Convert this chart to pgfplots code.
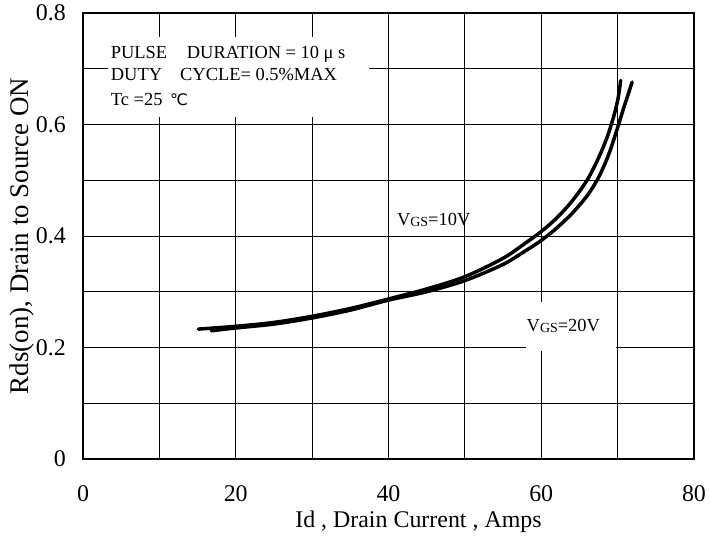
\documentclass[border=0pt]{standalone}
\usepackage{pgfplots}
\pgfplotsset{compat=1.18}
\usepackage{fontspec}
\setmainfont{Liberation Serif}
\newfontfamily\dejavu{DejaVu Sans}
\newcommand\axfont{\fontsize{24}{28}\selectfont}
\newcommand\ylfont{\fontsize{27}{31}\selectfont}
\newcommand\anfont{\fontsize{18.5}{22}\selectfont}
\newcommand\subfont{\fontsize{14}{14}\selectfont}
\begin{document}
\begin{tikzpicture}
\begin{axis}[
 scale only axis, width=611bp, height=446bp,
 xmin=0, xmax=80, ymin=0, ymax=0.8,
 xtick={0,20,40,60,80}, xticklabels={0,20,40,60,80},
 minor xtick={10,30,50,70},
 ytick={0,0.2,0.4,0.6,0.8}, yticklabels={0,0.2,0.4,0.6,0.8},
 minor ytick={0.1,0.3,0.5,0.7},
 grid=both,
 major grid style={black, line width=0.8bp},
 minor grid style={black, line width=0.8bp},
 major tick length=0pt, minor tick length=0pt,
 axis line style={black, line width=1.4bp},
 tick label style={font=\axfont},
 xticklabel style={anchor=base, inner sep=0pt, yshift=-42bp},
 yticklabel style={anchor=east, inner sep=0pt, xshift=-17bp},
 xlabel={Id , Drain Current , Amps},
 ylabel={Rds(on), Drain to Source ON},
 xlabel style={font=\axfont, at={([yshift=-68bp, xshift=30bp]axis description cs:0.5,0)}, anchor=base, inner sep=0pt},
 ylabel style={font=\ylfont, at={([xshift=-54bp]axis description cs:0,0.5)}, anchor=base, inner sep=0pt},
]
\addplot[black, line width=3.5bp, line cap=round, smooth] coordinates {
(15.1,0.233) (20,0.238) (25,0.245) (30,0.256) (35,0.270) (40,0.287) (45,0.305)
(50,0.327) (55,0.360) (58,0.388) (60,0.408) (62,0.432) (64,0.462) (66,0.500)
(67.5,0.540) (68.7,0.580) (69.6,0.620) (70.1,0.650) (70.4,0.679)};
\addplot[black, line width=3.5bp, line cap=round, smooth] coordinates {
(16.8,0.230) (20,0.235) (25,0.242) (30,0.253) (35,0.267) (40,0.285) (45,0.300)
(50,0.320) (55,0.349) (58,0.374) (60,0.392) (62,0.414) (64,0.440) (66,0.472)
(67.5,0.505) (68.8,0.545) (69.9,0.590) (70.8,0.630) (71.4,0.655) (71.9,0.676)};
\fill[white] (axis cs:3.27,0.613) rectangle (axis cs:37.45,0.757);
\fill[white] (axis cs:58.0,0.194) rectangle (axis cs:69.85,0.282);
\begin{scope}[every node/.style={anchor=base west, inner sep=0pt, font=\anfont}]
\node at (axis cs:3.63,0.7186) {PULSE};
\node at (axis cs:13.58,0.7186) {DURATION = 10 μ s};
\node at (axis cs:3.63,0.6786) {DUTY};
\node at (axis cs:12.70,0.6786) {CYCLE= 0.5\%MAX};
\node at (axis cs:3.63,0.6337) {Tc =25};
\node at (axis cs:11.39,0.6337) {{\dejavu\fontsize{16}{18}\selectfont ℃}};
\node at (axis cs:41.1,0.4185) {V\raisebox{-1bp}{\subfont GS}=10V};
\node at (axis cs:58.07,0.2283) {V\raisebox{-1bp}{\subfont GS}=20V};
\end{scope}
\end{axis}
\path (current axis.south west) ++(-83bp,-81bp) rectangle ++(710bp,540bp);
\end{tikzpicture}
\end{document}
